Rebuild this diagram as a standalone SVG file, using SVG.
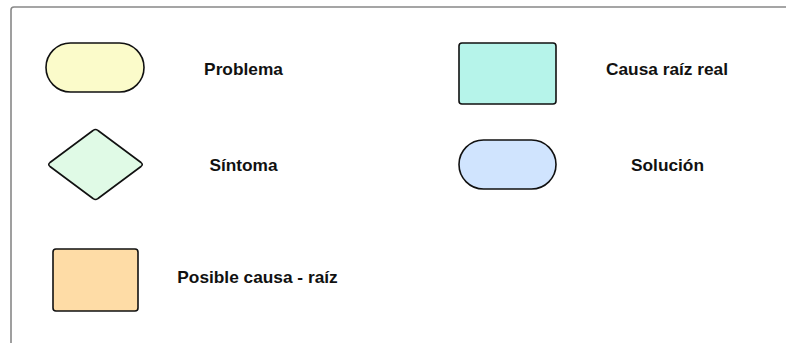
<svg xmlns="http://www.w3.org/2000/svg" width="786" height="343" viewBox="0 0 786 343">
<style>
.s{stroke:#111;stroke-width:1.6;stroke-linejoin:round}
.t{font-family:"Liberation Sans",Arial,sans-serif;font-weight:bold;font-size:17.3px;fill:#111;text-anchor:middle}
</style>
<rect x="11" y="7" width="820" height="400" rx="3" fill="#fff" stroke="#888" stroke-width="1.6"/>
<g id="connectors"></g>
<g id="problema">
<rect class="s" x="46" y="43" width="98" height="49" rx="24.5" fill="#fbfbca"/>
<text class="t" x="243.5" y="75">Problema</text>
</g>
<g id="causa-raiz-real">
<rect class="s" x="459" y="43" width="97" height="61" rx="3" fill="#b6f4ea"/>
<text class="t" x="667" y="75">Causa raíz real</text>
</g>
<g id="sintoma">
<path class="s" d="M93,130.5 Q95.5,128.5 98,130.5 L141,162.5 Q143.5,164.5 141,166.5 L98,198.5 Q95.5,200.5 93,198.5 L50,166.5 Q47.5,164.5 50,162.5 Z" fill="#e0fae6"/>
<text class="t" x="243.5" y="171">Síntoma</text>
</g>
<g id="solucion">
<rect class="s" x="459" y="140" width="97" height="49" rx="24.5" fill="#d0e4fe"/>
<text class="t" x="667.5" y="171">Solución</text>
</g>
<g id="posible-causa-raiz">
<rect class="s" x="53" y="249" width="85" height="62" rx="3" fill="#fedca6"/>
<text class="t" x="257.5" y="283">Posible causa - raíz</text>
</g>
</svg>
